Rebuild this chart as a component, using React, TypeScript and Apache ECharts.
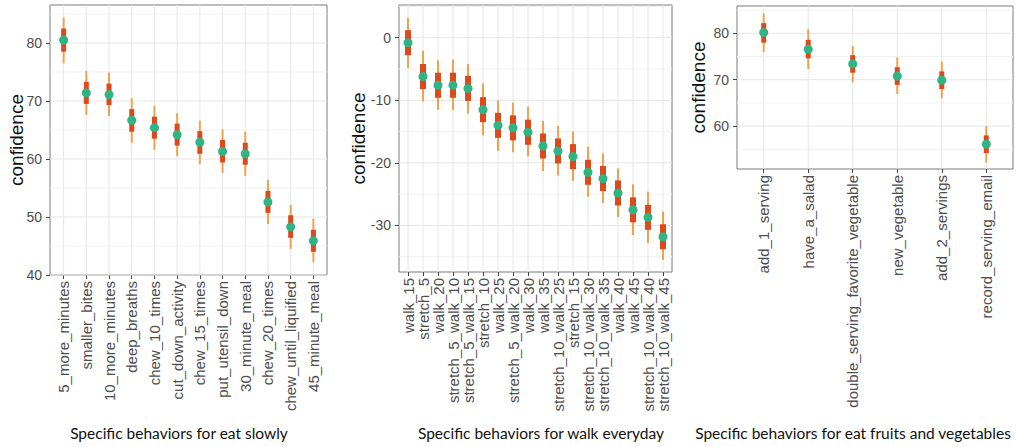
import React, { useEffect, useRef } from "react";
import * as echarts from "echarts";

// Panel 1: eat slowly
const names1 = ["5_more_minutes", "smaller_bites", "10_more_minutes", "deep_breaths", "chew_10_times", "cut_down_activity", "chew_15_times", "put_utensil_down", "30_minute_meal", "chew_20_times", "chew_until_liquified", "45_minute_meal"];
const mean1 = [80.5, 71.4, 71.1, 66.7, 65.4, 64.2, 62.9, 61.3, 60.9, 52.6, 48.3, 45.9];
const lo95_1 = [76.5, 67.6, 67.4, 62.8, 61.6, 60.5, 59.1, 57.6, 57.1, 48.8, 44.5, 42.2];
const hi95_1 = [84.4, 75.2, 74.9, 70.5, 69.2, 67.9, 66.6, 65.1, 64.7, 56.4, 52.1, 49.7];
const lo50_1 = [78.5, 69.5, 69.3, 64.7, 63.5, 62.3, 60.9, 59.4, 59.0, 50.7, 46.4, 44.0];
const hi50_1 = [82.5, 73.3, 73.0, 68.6, 67.3, 66.1, 64.8, 63.3, 62.8, 54.5, 50.3, 47.8];
const yTicks1 = [40, 50, 60, 70, 80];
const yMinor1 = [45, 55, 65, 75, 85];

// Panel 2: walk everyday
const names2 = ["walk_15", "stretch_5", "walk_20", "stretch_5_walk_10", "stretch_5_walk_15", "stretch_10", "walk_25", "stretch_5_walk_20", "walk_30", "walk_35", "stretch_10_walk_25", "stretch_15", "stretch_10_walk_30", "stretch_10_walk_35", "walk_40", "walk_45", "stretch_10_walk_40", "stretch_10_walk_45"];
const mean2 = [-0.8, -6.2, -7.6, -7.6, -8.1, -11.5, -14.0, -14.4, -15.1, -17.3, -18.1, -19.0, -21.5, -22.5, -24.8, -27.5, -28.7, -31.8];
const lo95_2 = [-4.9, -10.2, -11.5, -11.6, -12.1, -15.6, -18.1, -18.3, -19.0, -21.3, -22.0, -22.9, -25.4, -26.4, -28.7, -31.5, -32.8, -35.5];
const hi95_2 = [3.2, -2.1, -3.6, -3.5, -4.2, -7.3, -10.0, -10.4, -11.0, -13.3, -14.1, -15.0, -17.4, -18.5, -20.9, -23.4, -24.6, -27.8];
const lo50_2 = [-2.8, -8.2, -9.6, -9.6, -10.1, -13.5, -16.0, -16.4, -17.1, -19.3, -20.1, -21.0, -23.5, -24.5, -26.8, -29.5, -30.7, -33.8];
const hi50_2 = [1.2, -4.2, -5.6, -5.6, -6.1, -9.5, -12.0, -12.4, -13.1, -15.3, -16.1, -17.0, -19.5, -20.5, -22.8, -25.5, -26.7, -29.8];
const yTicks2 = [-30, -20, -10, 0];
const yMinor2 = [-35, -25, -15, -5, 5];

// Panel 3: eat fruits and vegetables
const names3 = ["add_1_serving", "have_a_salad", "double_serving_favorite_vegetable", "new_vegetable", "add_2_servings", "record_serving_email"];
const mean3 = [80.2, 76.6, 73.4, 70.8, 69.9, 56.1];
const lo95_3 = [76.0, 72.3, 69.4, 66.9, 66.0, 52.1];
const hi95_3 = [84.3, 80.9, 77.3, 74.8, 73.9, 60.0];
const lo50_3 = [78.0, 74.6, 71.5, 68.9, 68.0, 54.2];
const hi50_3 = [82.2, 78.6, 75.3, 72.7, 71.8, 58.0];
const yTicks3 = [60, 70, 80];
const yMinor3 = [55, 65, 75, 85];

const xTitles = ["Specific behaviors for eat slowly", "Specific behaviors for walk everyday", "Specific behaviors for eat fruits and vegetables"];
const yTitle = "confidence";

const THIN = "#f2a150";
const THICK = "#dc4a1c";
const DOT = "#2fb583";
const GRID_MAJOR = "#e6e6e6";
const GRID_MINOR = "#f1f1f1";
const SANS = "'Liberation Sans', Arial, Helvetica, sans-serif";

const panels = [
  { names: names1, mean: mean1, lo95: lo95_1, hi95: hi95_1, lo50: lo50_1, hi50: hi50_1, ticks: yTicks1, minor: yMinor1, ymin: 40, ymax: 86.55, grid: { left: 50, top: 5, width: 277, height: 270 }, thick: 5, dot: 4.5 },
  { names: names2, mean: mean2, lo95: lo95_2, hi95: hi95_2, lo50: lo50_2, hi50: hi50_2, ticks: yTicks2, minor: yMinor2, ymin: -37.43, ymax: 5.22, grid: { left: 399, top: 5, width: 273, height: 267 }, thick: 6, dot: 4.5 },
  { names: names3, mean: mean3, lo95: lo95_3, hi95: hi95_3, lo50: lo50_3, hi50: hi50_3, ticks: yTicks3, minor: yMinor3, ymin: 50.75, ymax: 85.9, grid: { left: 737, top: 6, width: 276, height: 163 }, thick: 5, dot: 4.5 },
];

export default function App() {
  const ref = useRef<HTMLDivElement>(null);
  useEffect(() => {
    if (!ref.current) return;
    const chart = echarts.init(ref.current, undefined, { renderer: "svg" });
    const grids: any[] = [];
    const xAxes: any[] = [];
    const yAxes: any[] = [];
    const series: any[] = [];
    panels.forEach((p, k) => {
      const n = p.names.length;
      const idx = p.names.map((_, i) => i);
      grids.push({ ...p.grid, show: true, borderColor: "#7a7a7a", borderWidth: 1, backgroundColor: "transparent" });
      xAxes.push({
        type: "value", gridIndex: k, min: -0.6, max: n - 0.4,
        axisLine: { show: false, onZero: false },
        splitLine: { show: false },
        axisTick: { show: true, customValues: idx, length: 4, lineStyle: { color: "#444", width: 1 } },
        axisLabel: {
          customValues: idx, rotate: 90, margin: 6, fontSize: 15, color: "#4d4d4d",
          fontFamily: SANS,
          formatter: (v: number) => p.names[Math.round(v)] ?? "",
        },
      });
      yAxes.push({
        type: "value", gridIndex: k, min: p.ymin, max: p.ymax,
        axisLine: { show: false, onZero: false },
        splitLine: { show: false },
        axisTick: { show: true, customValues: p.ticks, length: 4, lineStyle: { color: "#444", width: 1 } },
        axisLabel: { customValues: p.ticks, margin: 8, fontSize: 14, color: "#4d4d4d", fontFamily: SANS },
      });
      series.push({
        type: "custom", xAxisIndex: k, yAxisIndex: k, z: 1, silent: true,
        data: p.minor.map((v) => [0, v]),
        renderItem: (params: any, api: any) => {
          const cs = params.coordSys;
          const y = api.coord([0, api.value(1)])[1];
          return { type: "line", shape: { x1: cs.x, y1: y, x2: cs.x + cs.width, y2: y }, style: { stroke: GRID_MINOR, lineWidth: 1 } };
        },
      });
      series.push({
        type: "custom", xAxisIndex: k, yAxisIndex: k, z: 1, silent: true,
        data: p.ticks.map((v) => [0, v]),
        renderItem: (params: any, api: any) => {
          const cs = params.coordSys;
          const y = api.coord([0, api.value(1)])[1];
          return { type: "line", shape: { x1: cs.x, y1: y, x2: cs.x + cs.width, y2: y }, style: { stroke: GRID_MAJOR, lineWidth: 1 } };
        },
      });
      series.push({
        type: "custom", xAxisIndex: k, yAxisIndex: k, z: 1, silent: true,
        data: idx.map((i) => [i, p.ymin]),
        renderItem: (params: any, api: any) => {
          const cs = params.coordSys;
          const x = api.coord([api.value(0), p.ymin])[0];
          return { type: "line", shape: { x1: x, y1: cs.y, x2: x, y2: cs.y + cs.height }, style: { stroke: GRID_MAJOR, lineWidth: 1 } };
        },
      });
      series.push({
        type: "custom", xAxisIndex: k, yAxisIndex: k, z: 3,
        data: idx.map((i) => [i, p.mean[i], p.lo95[i], p.hi95[i], p.lo50[i], p.hi50[i]]),
        renderItem: (params: any, api: any) => {
          const x = api.value(0);
          const c = api.coord([x, api.value(1)]);
          const a = api.coord([x, api.value(2)]);
          const b = api.coord([x, api.value(3)]);
          const d = api.coord([x, api.value(4)]);
          const e = api.coord([x, api.value(5)]);
          return {
            type: "group",
            children: [
              { type: "line", shape: { x1: c[0], y1: a[1], x2: c[0], y2: b[1] }, style: { stroke: THIN, lineWidth: 2 } },
              { type: "line", shape: { x1: c[0], y1: d[1], x2: c[0], y2: e[1] }, style: { stroke: THICK, lineWidth: p.thick } },
              { type: "circle", shape: { cx: c[0], cy: c[1], r: p.dot }, style: { fill: DOT } },
            ],
          };
        },
      });
    });

    const yTitlePos = [[16, 140], [358, 138.5], [698, 87.5]];
    const xTitlePos = [[179, 433], [541, 433], [853, 433]];
    const graphic: any[] = [];
    yTitlePos.forEach(([x, y]) => {
      graphic.push({ type: "text", x, y, rotation: Math.PI / 2, style: { text: yTitle, fontSize: 19, fill: "#111", align: "center", verticalAlign: "middle", fontFamily: SANS } });
    });
    xTitlePos.forEach(([x, y], k) => {
      graphic.push({ type: "text", x, y, style: { text: xTitles[k], fontSize: 15.5, fill: "#111", align: "center", verticalAlign: "middle", fontFamily: "Lato, 'Open Sans', sans-serif" } });
    });

    chart.setOption({
      animation: false,
      backgroundColor: "#ffffff",
      grid: grids,
      xAxis: xAxes,
      yAxis: yAxes,
      series,
      graphic,
    });
    return () => chart.dispose();
  }, []);
  return <div ref={ref} style={{ position: "absolute", left: 0, top: 0, width: 1017, height: 447 }} />;
}
